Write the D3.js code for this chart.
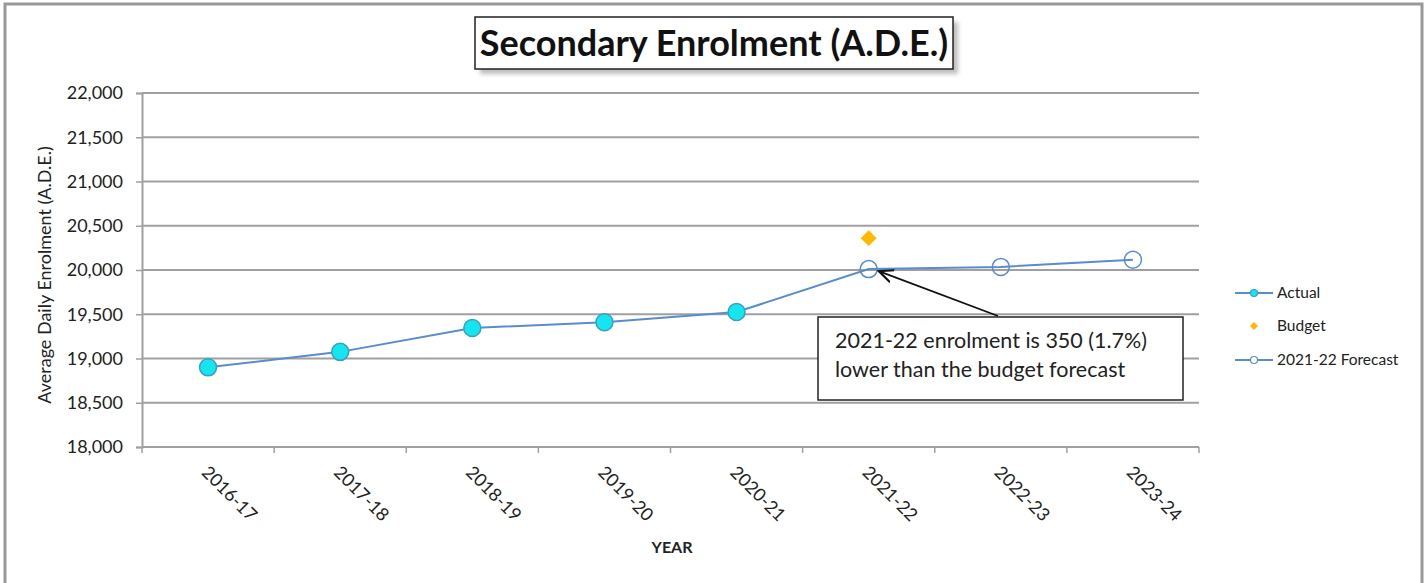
<!DOCTYPE html>
<html>
<head>
<meta charset="utf-8">
<script src="https://cdn.jsdelivr.net/npm/d3@7"></script>
<style>
  body { margin: 0; background: #fff; }
  svg { display: block; font-family: Lato, "Open Sans", sans-serif; }
</style>
</head>
<body>
<svg id="chart" width="1427" height="583"></svg>
<script>
// Data
var years = ['2016-17', '2017-18', '2018-19', '2019-20', '2020-21', '2021-22', '2022-23', '2023-24'];
var actual = [18900, 19075, 19345, 19410, 19525];
var forecastYears = ['2020-21', '2021-22', '2022-23', '2023-24'];
var forecast = [19525, 20010, 20035, 20115];
var budgetYear = '2021-22';
var budget = 20360;
var yTicks = [18000, 18500, 19000, 19500, 20000, 20500, 21000, 21500, 22000];

var svg = d3.select('#chart');

// outer frame
svg.append('rect')
    .attr('x', 5).attr('y', 4)
    .attr('width', 1417).attr('height', 600)
    .attr('fill', 'none')
    .attr('stroke', '#999')
    .attr('stroke-width', 3);

var margin = { top: 93, left: 142 };
var width = 1057, height = 354;

var x = d3.scaleBand().domain(years).range([0, width]);
var y = d3.scaleLinear().domain([18000, 22000]).range([height, 0]);

var g = svg.append('g')
    .attr('transform', 'translate(' + margin.left + ',' + margin.top + ')');

// gridlines
g.selectAll('.grid')
    .data(yTicks)
  .enter().append('line')
    .attr('x1', 0).attr('x2', width)
    .attr('y1', d => y(d)).attr('y2', d => y(d))
    .attr('stroke', '#a0a0a0')
    .attr('stroke-width', 2);

// Y axis
var yAxis = g.append('g')
    .call(d3.axisLeft(y).tickValues(yTicks).tickFormat(d3.format(',')).tickSize(6).tickPadding(13));
yAxis.select('.domain').attr('stroke', '#a0a0a0').attr('stroke-width', 2);
yAxis.selectAll('.tick line').attr('stroke', '#a0a0a0').attr('stroke-width', 1.5);
yAxis.selectAll('.tick text')
    .attr('font-size', 18)
    .attr('fill', '#222')
    .style('font-family', 'Lato, sans-serif');

// X axis with ticks at band boundaries
var xAxis = g.append('g').attr('transform', 'translate(0,' + height + ')');
xAxis.append('line')
    .attr('x1', 0).attr('x2', width)
    .attr('stroke', '#a0a0a0').attr('stroke-width', 2);
xAxis.selectAll('.sep')
    .data(years.concat(['end']))
  .enter().append('line')
    .attr('x1', (d, i) => i * x.bandwidth())
    .attr('x2', (d, i) => i * x.bandwidth())
    .attr('y1', 0).attr('y2', 6)
    .attr('stroke', '#a0a0a0').attr('stroke-width', 1.5);
xAxis.selectAll('.lbl')
    .data(years)
  .enter().append('text')
    .attr('transform', d => 'translate(' + (x(d) + x.bandwidth() / 2 - 3) + ',22) rotate(45)')
    .attr('font-size', 18)
    .attr('fill', '#222')
    .attr('dy', '0.35em')
    .text(d => d);

// Axis titles
g.append('text')
    .attr('transform', 'translate(' + (-91) + ',' + (height / 2 + 5) + ') rotate(-90)')
    .attr('text-anchor', 'middle')
    .attr('font-size', 18)
    .attr('fill', '#222')
    .text('Average Daily Enrolment (A.D.E.)');

g.append('text')
    .attr('x', 530).attr('y', height + 106)
    .attr('text-anchor', 'middle')
    .attr('font-size', 16)
    .attr('font-weight', 'bold')
    .attr('fill', '#222')
    .text('YEAR');

var cx = d => x(d) + x.bandwidth() / 2;
var line = d3.line().x(d => cx(d[0])).y(d => y(d[1]));

// forecast line
var fData = forecastYears.map((d, i) => [d, forecast[i]]);
g.append('path')
    .datum(fData)
    .attr('d', line)
    .attr('fill', 'none')
    .attr('stroke', '#5a8ccb')
    .attr('stroke-width', 2);

// actual line
var aData = actual.map((v, i) => [years[i], v]);
g.append('path')
    .datum(aData)
    .attr('d', line)
    .attr('fill', 'none')
    .attr('stroke', '#5a8ccb')
    .attr('stroke-width', 2);

g.selectAll('.fc')
    .data(fData.slice(1))
  .enter().append('circle')
    .attr('cx', d => cx(d[0]))
    .attr('cy', d => y(d[1]))
    .attr('r', 8.5)
    .attr('fill', 'none')
    .attr('stroke', '#5a8ccb')
    .attr('stroke-width', 1.5);

g.selectAll('.ac')
    .data(aData)
  .enter().append('circle')
    .attr('cx', d => cx(d[0]))
    .attr('cy', d => y(d[1]))
    .attr('r', 8.5)
    .attr('fill', '#14e6f0')
    .attr('stroke', '#3a9fc0')
    .attr('stroke-width', 1.5);

// budget diamond
g.append('path')
    .attr('d', d3.symbol().type(d3.symbolDiamond2).size(160))
    .attr('transform', 'translate(' + cx(budgetYear) + ',' + y(budget) + ')')
    .attr('fill', '#ffb800');

// annotation arrow
svg.append('defs').append('marker')
    .attr('id', 'arrow')
    .attr('viewBox', '0 0 10 10')
    .attr('refX', 9).attr('refY', 5)
    .attr('markerWidth', 9).attr('markerHeight', 9)
    .attr('orient', 'auto')
  .append('path')
    .attr('d', 'M0,1 L9,5 L0,9')
    .attr('fill', 'none')
    .attr('stroke', '#111')
    .attr('stroke-width', 1.3);

g.append('line')
    .attr('x1', 998 - margin.left).attr('y1', 316 - margin.top)
    .attr('x2', cx(budgetYear) + 10).attr('y2', y(forecast[1]) + 2)
    .attr('stroke', '#111')
    .attr('stroke-width', 1.8)
    .attr('marker-end', 'url(#arrow)');

// annotation box
var ann = svg.append('g').attr('transform', 'translate(818,317)');
ann.append('rect')
    .attr('width', 365).attr('height', 83)
    .attr('fill', '#fff')
    .attr('stroke', '#222')
    .attr('stroke-width', 1.5);
ann.append('text')
    .attr('x', 17).attr('y', 31)
    .attr('font-size', 21.5)
    .attr('fill', '#222')
    .text('2021-22 enrolment is 350 (1.7%)');
ann.append('text')
    .attr('x', 17).attr('y', 60)
    .attr('font-size', 21.5)
    .attr('fill', '#222')
    .text('lower than the budget forecast');

// title box with shadow
var tb = svg.append('g').attr('transform', 'translate(475,17)');
tb.append('rect')
    .attr('x', 5).attr('y', 5)
    .attr('width', 478).attr('height', 52)
    .attr('fill', '#888')
    .attr('opacity', 0.55)
    .style('filter', 'blur(2px)');
tb.append('rect')
    .attr('width', 478).attr('height', 52)
    .attr('fill', '#fff')
    .attr('stroke', '#222')
    .attr('stroke-width', 1.5);
tb.append('text')
    .attr('x', 239).attr('y', 39)
    .attr('text-anchor', 'middle')
    .attr('font-size', 36)
    .attr('font-weight', 'bold')
    .attr('fill', '#111')
    .text('Secondary Enrolment (A.D.E.)');

// legend
var legend = svg.append('g').attr('transform', 'translate(1235,0)');
var items = [
    { name: 'Actual', y: 293, type: 'actual' },
    { name: 'Budget', y: 326, type: 'budget' },
    { name: '2021-22 Forecast', y: 360, type: 'forecast' }
];
items.forEach(function(it) {
    if (it.type !== 'budget') {
        legend.append('line')
            .attr('x1', 0).attr('x2', 38)
            .attr('y1', it.y).attr('y2', it.y)
            .attr('stroke', '#5a8ccb').attr('stroke-width', 2);
        legend.append('circle')
            .attr('cx', 19).attr('cy', it.y).attr('r', 3.5)
            .attr('fill', it.type === 'actual' ? '#14e6f0' : '#fff')
            .attr('stroke', it.type === 'actual' ? '#3a9fc0' : '#5a8ccb')
            .attr('stroke-width', 1.2);
    } else {
        legend.append('path')
            .attr('d', d3.symbol().type(d3.symbolDiamond2).size(40))
            .attr('transform', 'translate(19,' + it.y + ')')
            .attr('fill', '#ffb800');
    }
    legend.append('text')
        .attr('x', 42).attr('y', it.y)
        .attr('dy', '0.35em')
        .attr('font-size', 15.5)
        .attr('fill', '#222')
        .text(it.name);
});
</script>
</body>
</html>
